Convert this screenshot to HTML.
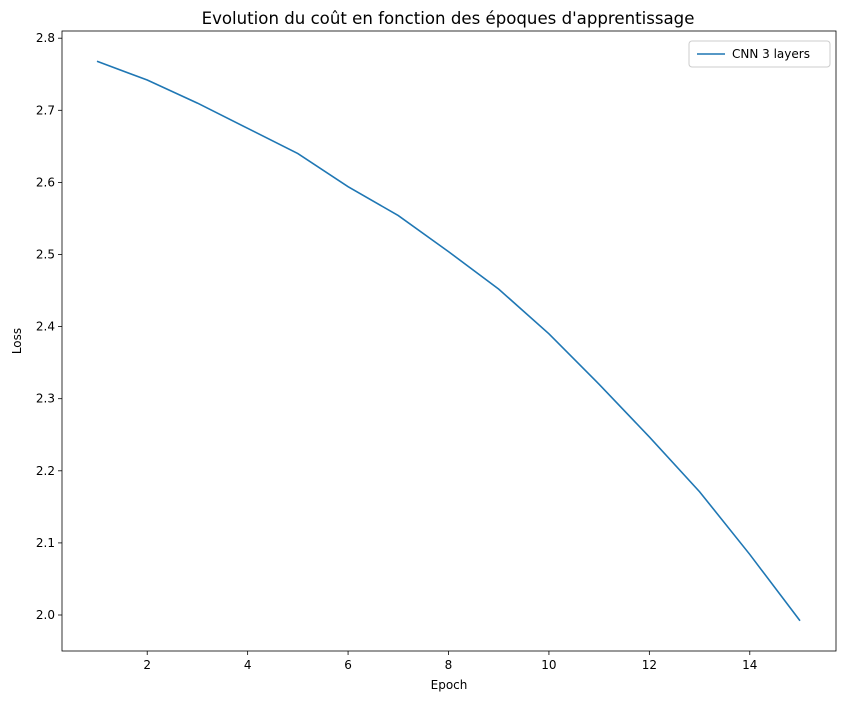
<!DOCTYPE html>
<html><head><meta charset="utf-8"><style>
body{margin:0;background:#fff;font-family:"Liberation Sans","DejaVu Sans",sans-serif}
svg text{font-family:"DejaVu Sans","Liberation Sans",sans-serif}
</style></head><body>
<svg id="chart" width="846" height="702" xmlns="http://www.w3.org/2000/svg"></svg>
<script>
const epochs=[1,2,3,4,5,6,7,8,9,10,11,12,13,14,15];
const loss=[2.768,2.742,2.710,2.675,2.640,2.594,2.554,2.504,2.452,2.390,2.320,2.247,2.171,2.084,1.992];
const xTicks=[2,4,6,8,10,12,14];
const yTicks=[2.0,2.1,2.2,2.3,2.4,2.5,2.6,2.7,2.8];
const L=62,R=836,T=31,B=651;
const sx=v=>97+(v-1)*(800-97)/14;
const sy=v=>615-(v-2.0)*721;
const svg=document.getElementById('chart');
const NS='http://www.w3.org/2000/svg';
function mk(tag,attrs,txt){const e=document.createElementNS(NS,tag);for(const k in attrs)e.setAttribute(k,attrs[k]);if(txt!==undefined)e.textContent=txt;svg.appendChild(e);return e;}
const frame=mk('rect',{x:L,y:T,width:R-L,height:B-T,fill:'none',stroke:'#000','stroke-width':0.8});


xTicks.forEach(t=>{const x=sx(t);
const l=mk('line',{x1:x,x2:x,y1:B,y2:B+4,stroke:'#000','stroke-width':0.8});


const tx=mk('text',{x:x,y:B+18,'font-size':12,'text-anchor':'middle'},String(t));

});
yTicks.forEach(t=>{const y=sy(t);
const l=mk('line',{x1:L-4,x2:L,y1:y,y2:y,stroke:'#000','stroke-width':0.8});


const tx=mk('text',{x:L-7,y:y+4,'font-size':12,'text-anchor':'end'},t.toFixed(1));

});
const pts=epochs.map((e,i)=>sx(e)+','+sy(loss[i])).join(' ');
const line=mk('polyline',{points:pts,fill:'none',stroke:'#1f77b4','stroke-width':1.6});


const title=mk('text',{x:448,y:24,'font-size':16.6,'text-anchor':'middle'},"Evolution du coût en fonction des époques d'apprentissage");


const xl=mk('text',{x:449,y:689,'font-size':12,'text-anchor':'middle'},'Epoch');


const yl=mk('text',{x:21,y:341,'font-size':12,'text-anchor':'middle',transform:'rotate(-90 21 341)'},'Loss');


const lg=mk('rect',{x:689,y:41,width:141,height:26,rx:3,fill:'#fff',stroke:'#ccc','stroke-width':1});


const ll=mk('line',{x1:697,x2:725,y1:54,y2:54,stroke:'#1f77b4','stroke-width':1.6});


const lt=mk('text',{x:732,y:58,'font-size':12},'CNN 3 layers');


</script>
</body></html>
